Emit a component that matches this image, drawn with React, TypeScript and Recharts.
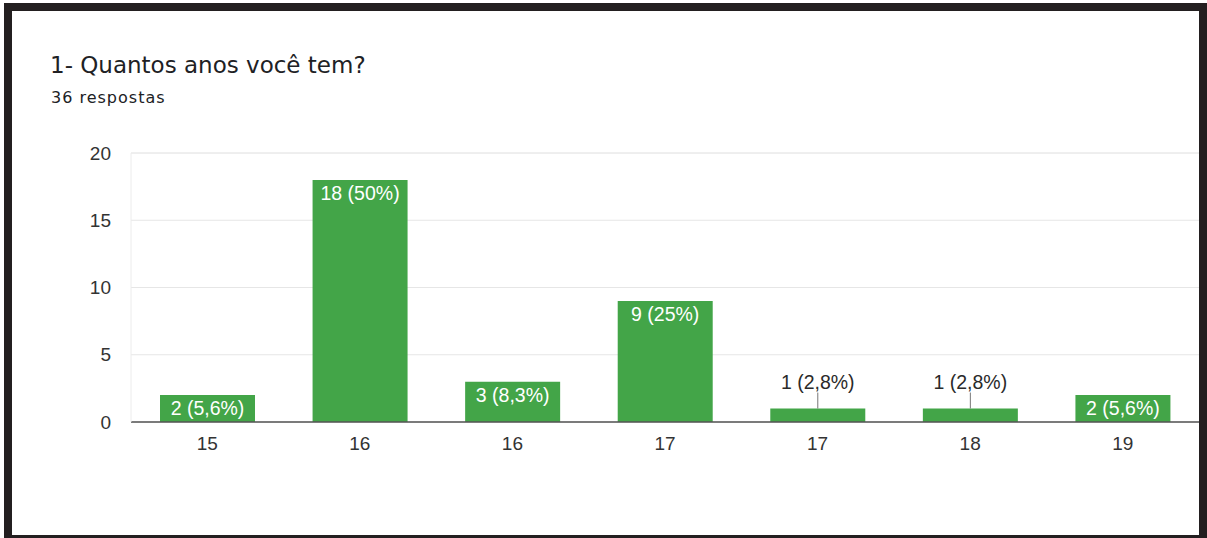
import React from "react";
import { BarChart, Bar, XAxis, YAxis, CartesianGrid, LabelList } from "recharts";

const categories = ["15", "16", "16", "17", "17", "18", "19"];
const counts = [2, 18, 3, 9, 1, 1, 2];
const valueLabels = ["2 (5,6%)", "18 (50%)", "3 (8,3%)", "9 (25%)", "1 (2,8%)", "1 (2,8%)", "2 (5,6%)"];
const yTicks = [0, 5, 10, 15, 20];
const minorTicks = [2.5, 7.5, 12.5, 17.5];

const data = categories.map((c, i) => ({ key: `c${i}`, name: c, count: counts[i] }));

const GREEN = "#43a548";
const FONT = "'Liberation Sans', Arial, sans-serif";
const TITLE_FONT = "'DejaVu Sans', sans-serif";

const renderLabel = (props: any) => {
  const { x, y, width, height, index } = props;
  const text = valueLabels[index];
  const cx = x + width / 2;
  if (height >= 22) {
    return (
      <text x={cx} y={y + 20} textAnchor="middle" fill="#ffffff" fontSize={19.5} fontFamily={FONT}>
        {text}
      </text>
    );
  }
  return (
    <g>
      <line x1={cx} x2={cx} y1={y - 16} y2={y} stroke="#777" strokeWidth={1} />
      <text x={cx} y={y - 20} textAnchor="middle" fill="#2a2a2a" fontSize={19.5} fontFamily={FONT}>
        {text}
      </text>
    </g>
  );
};

export default function App() {
  return (
    <div style={{ position: "absolute", left: 0, top: 0, width: 1207, height: 538, background: "#fff", overflow: "hidden" }}>
      <div style={{ position: "absolute", left: 0, top: 0 }}>
        <BarChart
          width={1207}
          height={538}
          data={data}
          margin={{ top: 153, right: 8, left: 0, bottom: 86 }}
          barCategoryGap={0}
        >
          <CartesianGrid vertical={false} stroke="#efefef" yAxisId="minor" />
          <CartesianGrid vertical={false} stroke="#e6e6e6" />
          <XAxis
            dataKey="key"
            tickFormatter={(_v: any, i: number) => categories[i]}
            axisLine={{ stroke: "#555", strokeWidth: 1.5 }}
            tickLine={false}
            tickSize={0}
            tickMargin={15}
            height={30}
            tick={{ fill: "#333", fontSize: 19, fontFamily: FONT }}
            interval={0}
          />
          <YAxis
            yAxisId="minor"
            width={0}
            domain={[0, 20]}
            ticks={minorTicks}
            tick={false}
            axisLine={false}
            tickLine={false}
          />
          <YAxis
            domain={[0, 20]}
            ticks={yTicks}
            width={131}
            axisLine={{ stroke: "#ececec" }}
            tickLine={false}
            tickSize={0}
            tickMargin={20}
            tick={{ fill: "#333", fontSize: 19, fontFamily: FONT }}
          />
          <Bar dataKey="count" fill={GREEN} barSize={95} isAnimationActive={false}>
            <LabelList dataKey="count" content={renderLabel} />
          </Bar>
        </BarChart>
      </div>
      <div
        style={{
          position: "absolute",
          left: 50,
          top: 52,
          fontFamily: TITLE_FONT,
          fontSize: 23,
          lineHeight: "normal",
          color: "#202124",
          whiteSpace: "nowrap",
        }}
      >
        1- Quantos anos você tem?
      </div>
      <div
        style={{
          position: "absolute",
          left: 51,
          top: 88,
          fontFamily: TITLE_FONT,
          fontSize: 16,
          letterSpacing: 1,
          lineHeight: "normal",
          color: "#202124",
          whiteSpace: "nowrap",
        }}
      >
        36 respostas
      </div>
      <div
        style={{
          position: "absolute",
          left: 4,
          top: 3,
          width: 1203,
          height: 540,
          boxSizing: "border-box",
          border: "8px solid #231f20",
          pointerEvents: "none",
        }}
      />
    </div>
  );
}
